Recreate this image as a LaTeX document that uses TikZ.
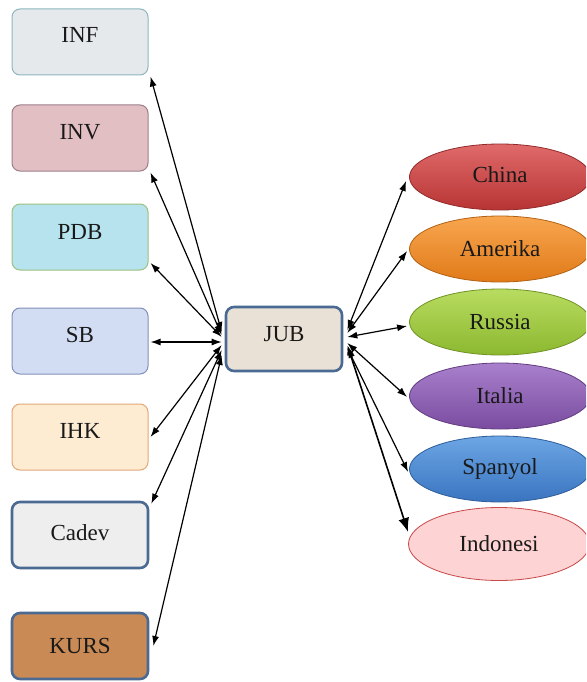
\documentclass[tikz,border=0pt]{standalone}
\usepackage{fontspec}
\setmainfont{Liberation Serif}
\usetikzlibrary{arrows.meta,shapes.geometric,calc}

% palette
\definecolor{infF}{HTML}{E6E9EC}\definecolor{infD}{HTML}{8DB6BE}
\definecolor{invF}{HTML}{E2BFC3}\definecolor{invD}{HTML}{9E7F8C}
\definecolor{pdbF}{HTML}{B6E3EE}\definecolor{pdbD}{HTML}{9CC27E}
\definecolor{sbF}{HTML}{D2DDF4}\definecolor{sbD}{HTML}{8391B9}
\definecolor{ihkF}{HTML}{FDEBD2}\definecolor{ihkD}{HTML}{E2A878}
\definecolor{cadF}{HTML}{EEEEEE}
\definecolor{kursF}{HTML}{C98A55}
\definecolor{jubF}{HTML}{E9E1D5}
\definecolor{steel}{HTML}{4A6A94}

\definecolor{chinaT}{HTML}{E06A6A}\definecolor{chinaB}{HTML}{B83434}
\definecolor{ameT}{HTML}{F8A650}\definecolor{ameB}{HTML}{E07A18}
\definecolor{rusT}{HTML}{B8DC60}\definecolor{rusB}{HTML}{8CB830}
\definecolor{itaT}{HTML}{A880CC}\definecolor{itaB}{HTML}{7A4CA0}
\definecolor{spaT}{HTML}{6CA6E4}\definecolor{spaB}{HTML}{3A74C0}
\definecolor{indF}{HTML}{FDD3D3}\definecolor{indD}{HTML}{C84848}

% labels in the boxes sit a little above centre
\newcommand\liftlabel[2]{\raisebox{#1pt}{#2}}

\tikzset{
  card/.style={rectangle, rounded corners=8pt, minimum width=136pt,
    minimum height=66pt, inner sep=0pt, line width=1pt,
    font=\fontsize{23}{25}\selectfont, text=black!90},
  heavycard/.style={card, draw=steel, line width=2.6pt},
  oval/.style={ellipse, minimum width=181pt, minimum height=66pt,
    inner sep=0pt, line width=0.8pt, font=\fontsize{23}{25}\selectfont,
    text=black!90},
  link/.style={line width=1.2pt, {Latex[length=10pt,width=7pt]}-{Latex[length=10pt,width=7pt]}},
  biglink/.style={line width=1.6pt, {Latex[length=10pt,width=7pt]}-{Latex[length=14pt,width=11pt]}}
}

\begin{document}
\begin{tikzpicture}[x=1pt,y=-1pt]
\clip (0,0) rectangle (586,682);
\fill[white] (0,0) rectangle (586,682);

% left column
\node[card, draw=infD, fill=infF]  (inf)  at (80,42)  {\liftlabel{14}{INF}};
\node[card, draw=invD, fill=invF]  (inv)  at (80,138) {\liftlabel{12}{INV}};
\node[card, draw=pdbD, fill=pdbF]  (pdb)  at (80,237) {\liftlabel{10}{PDB}};
\node[card, draw=sbD,  fill=sbF]   (sb)   at (80,341) {\liftlabel{12}{SB}};
\node[card, draw=ihkD, fill=ihkF]  (ihk)  at (80,437) {\liftlabel{12}{IHK}};
\node[heavycard, fill=cadF]        (cad)  at (80,535) {\liftlabel{5}{Cadev}};
\node[heavycard, fill=kursF]       (kurs) at (80,646) {KURS};

% hub
\node[heavycard, fill=jubF, minimum width=116pt, minimum height=64pt] (jub) at (284,339) {\liftlabel{10}{JUB}};

% right column
\node[oval, draw=chinaB!80!black, top color=chinaT, bottom color=chinaB] (china) at (500,177) {\liftlabel{4}{China}};
\node[oval, draw=ameB!80!black,   top color=ameT,   bottom color=ameB]   (ame)   at (500,249) {Amerika};
\node[oval, draw=rusB!80!black,   top color=rusT,   bottom color=rusB]   (rus)   at (500,322) {Russia};
\node[oval, draw=itaB!80!black,   top color=itaT,   bottom color=itaB]   (ita)   at (500,396) {Italia};
\node[oval, draw=spaB!80!black,   top color=spaT,   bottom color=spaB]   (spa)   at (500,469) {Spanyol};
\node[oval, draw=indD, fill=indF, minimum height=73pt] (ind) at (499,544) {Indonesi};

% connectors to the left column
\draw[link] ($(jub.west)+(-3,-7)$) -- ($(inf.south east)+(2,1)$);
\draw[link] ($(jub.west)+(-3,-4)$) -- ($(inv.south east)+(2,1)$);
\draw[link] ($(jub.west)+(-3,-2)$) -- ($(pdb.east)+(2,26)$);
\draw[link] ($(jub.west)+(-3,3)$)  -- ($(sb.east)+(2,1)$);
\draw[link] ($(jub.west)+(-3,6)$)  -- ($(ihk.east)+(2,0)$);
\draw[link] ($(jub.west)+(-3,11)$) -- ($(cad.north east)+(2,3)$);
\draw[link] ($(jub.west)+(-3,16)$) -- ($(kurs.east)+(4,0)$);

% connectors to the right column
\draw[link] ($(jub.east)+(4,-9)$) -- ($(china.west)+(-3,4)$);
\draw[link] ($(jub.east)+(4,-6)$) -- ($(ame.west)+(-2,2)$);
\draw[link] ($(jub.east)+(4,-2)$) -- ($(rus.west)+(-2,4)$);
\draw[link] ($(jub.east)+(4,4)$)  -- ($(ita.west)+(-2,1)$);
\draw[link] ($(jub.east)+(4,9)$)  -- ($(spa.west)+(-1,3)$);
\draw[biglink] ($(jub.east)+(4,6)$) -- ($(ind.west)+(0,-12)$);
\end{tikzpicture}
\end{document}
